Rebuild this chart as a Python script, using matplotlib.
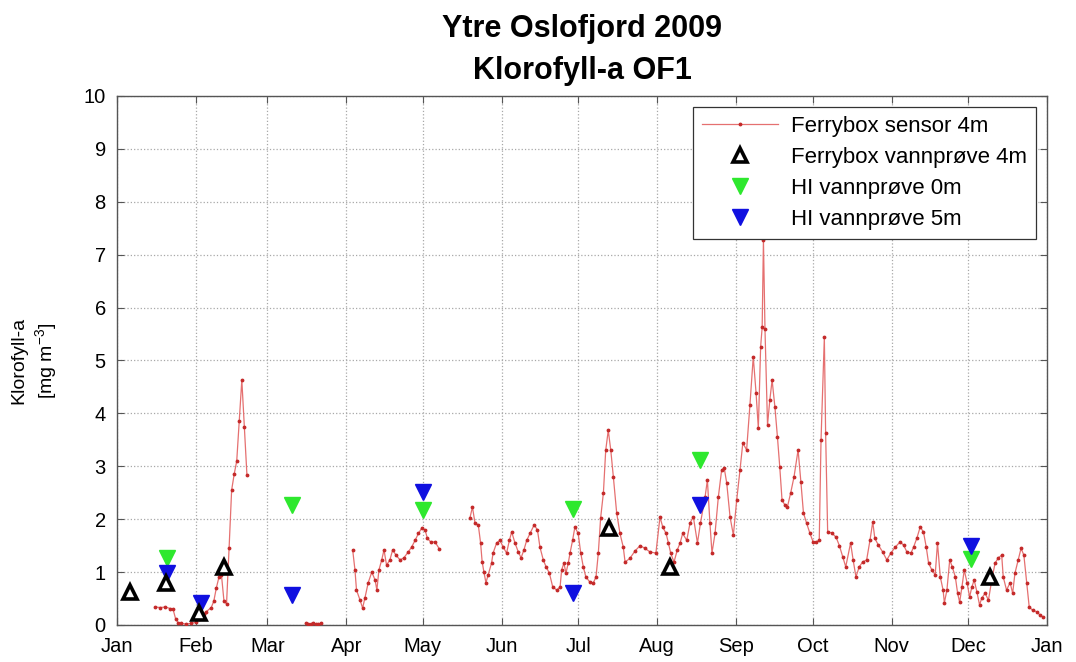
import numpy as np
import matplotlib
matplotlib.use('Agg')
import matplotlib.pyplot as plt

plt.rcParams['font.family'] = ['Liberation Sans', 'DejaVu Sans']
plt.rcParams['mathtext.default'] = 'regular'

# x axis: day of year 2009 (0 = 1 Jan)
month_labels = ['Jan', 'Feb', 'Mar', 'Apr', 'May', 'Jun', 'Jul', 'Aug',
                'Sep', 'Oct', 'Nov', 'Dec', 'Jan']
month_days = [0, 31, 59, 90, 120, 151, 181, 212, 243, 273, 304, 334, 365]

nan = float('nan')

# Ferrybox sensor 4m (gaps marked by nan)
sensor_day = [
    15, 17, 19, 21, 22, 23, 24, 25, 27, 29, 31, 32, 34, 35, 37, 38, 39, 40, 41, 42, 43,
    44, 45, 46, 47, 48, 49, 50, 51,
    60,
    74, 75, 76, 77, 78, 79, 80,
    85,
    92.5, 93.4, 94, 95.4, 96.4, 97.3, 98.6, 100, 101.3, 102, 102.8, 103.9, 104.8, 105.8,
    107.1, 108.2, 109.5, 111.1, 112.6, 114.3, 115.6, 117, 118.3, 119.6, 120.9, 121.8,
    123.1, 124.8, 126.5,
    132,
    138.5, 139.5, 140.5, 141.8, 142.7, 143.3, 144, 144.8, 145.7, 147, 147.6, 149, 150.3,
    151.6, 152.9, 154, 154.9, 156.2, 157.5, 158.6, 159.7, 160.8, 162.1, 163.7, 165, 166,
    167.3, 168.4, 169.7, 171, 172.6, 173.9, 174.5, 175.4, 176.2, 177.1, 177.8, 178.8,
    179.7, 181, 182, 183, 184, 185.6, 186.9, 188, 188.9, 189.8, 190.9, 191.8, 192.8,
    193.8, 194.8, 196.1, 197.4, 198.7, 199.4, 201.3, 203.3, 205.3, 207.2, 209.2, 211.5,
    213.1, 214.2, 215.5, 216.4, 217.3, 218.6, 219.9, 221, 222, 223.6, 224.9, 226.2,
    227.8, 229, 230.8, 231.7, 232.7, 233.5, 234.7, 236, 237.3, 238.3, 239.3, 240.6,
    241.9, 243.2, 244.5, 245.6, 247.1, 248.4, 249.7, 250.8, 251.7, 252.6, 253.2, 253.7,
    254.3, 255.3, 256.2, 257.1, 258.2, 259.2, 260.1, 261, 262.1, 263.1, 264.4, 265.7,
    267.3, 268.4, 269.4, 270.6, 271.9, 273.2, 274.5, 275.6, 276.3, 277.6, 278.1, 278.9,
    280.5, 282.2, 283.5, 284.8, 286, 287.9, 288.9, 290, 291.3, 292.6, 294.2, 295.5,
    296.6, 297.4, 298.8, 300.5, 302.1, 303.7, 305.4, 307.3, 308.7, 310, 311.6, 312.6,
    313.9, 315.2, 316.5, 317.6, 318.5, 319.8, 321.1, 322, 323.1, 324.2, 324.7, 325.7,
    326.8, 327.8, 329, 329.9, 330.7, 331.6, 332.5, 333.6, 334.6, 335.5, 336.4, 337.5,
    338.5, 339.4, 340.7, 342, 343.3, 344.6, 345.9, 347.2, 347.8, 349.1, 350.5, 351.5,
    352.4, 353.7, 354.8, 355.9, 357, 358, 359.3, 360.9, 362.2, 363.5]
sensor_val = [
    .34, .33, .34, .31, .30, .12, .04, .03, .02, .03, .05, .12, .2, .25, .33, .45, .7, .9, .95, .45, .4,
    1.45, 2.55, 2.85, 3.1, 3.85, 4.63, 3.75, 2.84,
    nan,
    .03, .02, .02, .03, .02, .02, .03,
    nan,
    1.42, 1.04, .66, .47, .32, .51, .8, 1.0, .85, .66, 1.04, 1.23, 1.42, 1.13,
    1.23, 1.42, 1.32, 1.23, 1.27, 1.38, 1.47, 1.6, 1.73, 1.83, 1.8, 1.64,
    1.57, 1.57, 1.44,
    nan,
    2.02, 2.23, 1.93, 1.89, 1.55, 1.2, 1.0, .8, .95, 1.17, 1.36, 1.55, 1.6,
    1.47, 1.36, 1.6, 1.76, 1.55, 1.38, 1.27, 1.42, 1.6, 1.73, 1.89, 1.8, 1.47,
    1.23, 1.1, .98, .72, .66, .72, 1.04, 1.17, .98, 1.17, 1.36, 1.6,
    1.85, 1.73, 1.36, 1.1, .91, .81, .79, .91, 1.36, 2.02, 2.5, 3.3, 3.68,
    3.3, 2.8, 2.12, 1.73, 1.47, 1.19, 1.26, 1.4, 1.5, 1.45, 1.38, 1.36,
    2.04, 1.85, 1.73, 1.55, 1.36, 1.19, 1.42, 1.55, 1.73, 1.6, 1.93, 2.04,
    1.55, 1.93, 2.42, 2.74, 1.93, 1.36, 1.73, 2.42, 2.93, 2.97, 2.68, 2.04,
    1.7, 2.36, 2.93, 3.44, 3.31, 4.16, 5.07, 4.39, 3.72, 5.26, 5.63, 7.28,
    5.6, 3.78, 4.25, 4.63, 4.12, 3.55, 2.99, 2.36, 2.27, 2.23, 2.5, 2.8,
    3.31, 2.7, 2.12, 1.93, 1.74, 1.57, 1.57, 1.6, 3.5, 5.44, 3.63, 1.76,
    1.74, 1.66, 1.5, 1.29, 1.1, 1.55, 1.23, .91, 1.1, 1.19, 1.23, 1.6,
    1.95, 1.64, 1.51, 1.38, 1.23, 1.36, 1.47, 1.57, 1.51, 1.38, 1.36, 1.47,
    1.64, 1.85, 1.76, 1.47, 1.17, 1.04, .95, 1.55, .91, .66, .42, .66,
    1.23, 1.1, .91, .6, .43, .72, 1.04, .8, .53, .72, .85, .62,
    .38, .51, .6, .47, .85, 1.17, 1.27, 1.32, .91, .66, .8, .6,
    .98, 1.23, 1.45, 1.32, .8, .34, .28, .25, .19, .15]

# Ferrybox water sample 4m
fb_day = [5, 19.3, 32, 42, 193, 217, 342.6]
fb_val = [0.62, 0.8, 0.22, 1.1, 1.83, 1.1, 0.9]

# HI water sample 0m
hi0_day = [19.5, 68.6, 120.2, 178.8, 228.8, 335]
hi0_val = [1.27, 2.27, 2.17, 2.2, 3.12, 1.25]

# HI water sample 5m
hi5_day = [19.5, 33, 68.6, 120, 179, 229, 335]
hi5_val = [0.98, 0.42, 0.57, 2.52, 0.6, 2.26, 1.5]

fig = plt.figure(figsize=(10.76, 6.62), dpi=100)
ax = fig.add_axes([0.1087, 0.0559, 0.8644, 0.7991])

ax.plot(sensor_day, sensor_val, '-', color='#e57070', lw=0.9, marker='.',
        ms=3.5, mfc='#c42a2a', mec='#c42a2a', label='Ferrybox sensor 4m', zorder=3)
ax.plot(fb_day, fb_val, '^', ls='none', mfc='white', mec='black', mew=2.6, ms=9.5,
        label='Ferrybox vannprøve 4m', zorder=5)
ax.plot(hi0_day, hi0_val, 'v', ls='none', color='#2ee82e', ms=11,
        label='HI vannprøve 0m', zorder=4)
ax.plot(hi5_day, hi5_val, 'v', ls='none', color='#1010e0', ms=11,
        label='HI vannprøve 5m', zorder=4)

ax.set_xlim(0, 365)
ax.set_ylim(0, 10)
ax.set_xticks(month_days)
ax.set_xticklabels(month_labels)
ax.set_yticks(range(0, 11))
ax.tick_params(direction='in', top=True, right=True, length=5, labelsize=14.5,
               color='#555555')
ax.tick_params(axis='x', pad=9)
ax.tick_params(axis='y', pad=8)
ax.grid(True, linestyle=':', color='#a8a8a8', lw=0.9)
for s in ax.spines.values():
    s.set_color('#555555')
    s.set_linewidth(1.0)

ax.set_ylabel('Klorofyll-a\n[mg m$^{-3}$]', fontsize=14, labelpad=18,
              linespacing=1.3)
ax.set_title('Ytre Oslofjord 2009\nKlorofyll-a OF1', fontsize=22,
             fontweight='bold', pad=12, linespacing=1.55)

leg = ax.legend(loc='upper right', fontsize=16, numpoints=1, fancybox=False,
                framealpha=1, edgecolor='#333333', borderaxespad=0.5,
                handlelength=3.4, labelspacing=0.45, borderpad=0.4,
                handletextpad=0.6)
leg.get_frame().set_linewidth(0.9)

fig.savefig('out.png', dpi=100)
